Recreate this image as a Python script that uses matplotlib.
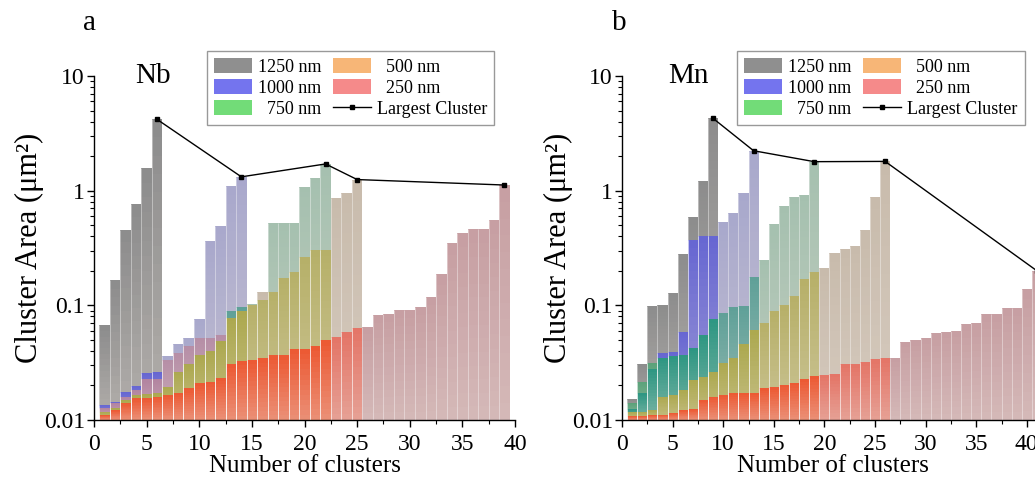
import numpy as np
import matplotlib
matplotlib.use("Agg")
import matplotlib.pyplot as plt
from matplotlib.patches import Patch
from matplotlib.lines import Line2D
from matplotlib.ticker import MultipleLocator, LogLocator, NullFormatter

plt.rcParams['font.family'] = ['Liberation Serif', 'DejaVu Serif']

# ---------------- data (cluster areas, um^2, sorted ascending) ----------------
series_names = ['1250 nm', '1000 nm', '750 nm', '500 nm', '250 nm']
series_nm = [1250, 1000, 750, 500, 250]

nb_1250 = [0.067, 0.166, 0.453, 0.76, 1.58, 4.18]
nb_1000 = [0.0135, 0.0144, 0.0174, 0.0198, 0.0256, 0.0262, 0.0365, 0.0457, 0.0515,
           0.076, 0.366, 0.494, 1.10, 1.32]
nb_750 = [0.0118, 0.0126, 0.0148, 0.0165, 0.0168, 0.0172, 0.0195, 0.0264, 0.031, 0.037,
          0.040, 0.0485, 0.089, 0.097, 0.103, 0.111, 0.525, 0.525, 0.525, 1.07, 1.28, 1.71]
nb_500 = [0.0128, 0.014, 0.016, 0.0183, 0.0226, 0.0226, 0.0334, 0.0384, 0.044, 0.0515,
          0.052, 0.055, 0.078, 0.089, 0.100, 0.131, 0.131, 0.172, 0.197, 0.264, 0.305,
          0.305, 0.857, 0.946, 1.25]
nb_250 = [0.011, 0.0122, 0.014, 0.0154, 0.0154, 0.016, 0.0165, 0.0171, 0.019, 0.0209,
          0.0216, 0.0232, 0.031, 0.033, 0.0334, 0.0345, 0.0369, 0.0369, 0.0414, 0.0414,
          0.0441, 0.0498, 0.0532, 0.0583, 0.0638, 0.0643, 0.0816, 0.0838, 0.091, 0.091,
          0.096, 0.119, 0.187, 0.351, 0.425, 0.46, 0.46, 0.555, 1.12]

mn_1250 = [0.0152, 0.0308, 0.0987, 0.100, 0.129, 0.280, 0.593, 1.22, 4.27]
mn_1000 = [0.0125, 0.0171, 0.0277, 0.0381, 0.039, 0.0589, 0.371, 0.399, 0.399, 0.536,
           0.641, 0.946, 2.23]
mn_750 = [0.0140, 0.0216, 0.0316, 0.0349, 0.036, 0.0369, 0.0422, 0.055, 0.0755, 0.085,
          0.096, 0.0987, 0.177, 0.248, 0.512, 0.735, 0.885, 0.915, 1.79]
mn_500 = [0.0118, 0.0118, 0.0122, 0.0160, 0.0165, 0.0183, 0.0225, 0.0239, 0.0264, 0.0317,
          0.0349, 0.0462, 0.0609, 0.0705, 0.0887, 0.101, 0.120, 0.169, 0.196, 0.210,
          0.284, 0.308, 0.329, 0.453, 0.875, 1.80]
mn_250 = [0.0108, 0.0108, 0.011, 0.0111, 0.0115, 0.0122, 0.0124, 0.0149, 0.016, 0.0165,
          0.0171, 0.0171, 0.0173, 0.0189, 0.0193, 0.0202, 0.0212, 0.0226, 0.0242, 0.0247,
          0.0251, 0.0308, 0.0308, 0.0322, 0.0338, 0.0345, 0.0349, 0.0482, 0.0498, 0.0515,
          0.057, 0.0588, 0.060, 0.0683, 0.0705, 0.084, 0.084, 0.094, 0.094, 0.138, 0.200]

x_ticks = [0, 5, 10, 15, 20, 25, 30, 35, 40]
y_ticks = [0.01, 0.1, 1, 10]
y_ticklabels = ['0.01', '0.1', '1', '10']

# ---------------- styling ----------------
YMIN, YMAX = 0.01, 10
SAT = {1250: (120, 120, 120), 1000: (80, 80, 235), 750: (45, 185, 100),
       500: (245, 160, 60), 250: (235, 60, 40)}
MUTED = {1250: (140, 140, 140), 1000: (168, 168, 204), 750: (165, 192, 175),
         500: (200, 187, 172), 250: (198, 158, 162)}
# colours of overlapping regions (two series only / three or more series)
PAIR2 = {frozenset({1250, 1000}): (102, 102, 210), frozenset({1000, 750}): (95, 160, 152),
         frozenset({750, 500}): (182, 176, 104), frozenset({500, 250}): (228, 116, 102),
         frozenset({1000, 500}): (182, 142, 166), frozenset({1250, 750}): (90, 162, 122),
         frozenset({1250, 500}): (172, 135, 145)}
PAIRN = {frozenset({1250, 1000}): (100, 100, 215), frozenset({1000, 750}): (45, 150, 130),
         frozenset({750, 500}): (172, 168, 78), frozenset({500, 250}): (236, 88, 50),
         frozenset({1000, 500}): (178, 132, 160), frozenset({1250, 750}): (60, 160, 125),
         frozenset({1250, 500}): (170, 130, 140)}
LEG = {1250: '#8f8f8f', 1000: '#7474ee', 750: '#72dc78', 500: '#f7b677', 250: '#f58a8a'}
LIGHT = np.array((232, 222, 214)) / 255.0
GRAD = 0.42
K = 14


def region_color(S, hs):
    s1 = min(S, key=lambda nm: (hs[nm], nm))
    if len(S) == 1:
        return np.array(MUTED[s1]) / 255.0
    others = [nm for nm in S if nm != s1]
    smaller = [nm for nm in others if nm < s1]
    partner = max(smaller) if smaller else min(nm for nm in others if nm > s1)
    key = frozenset({s1, partner})
    table = PAIR2 if len(S) == 2 else PAIRN
    if key in table:
        c = np.array(table[key], dtype=float)
    else:
        c = 0.5 * np.array(SAT[s1]) + 0.5 * np.array(SAT[partner])
    return c / 255.0


def draw_panel(ax, data, xmax, label, label_tx, ylab_x, leg_x):
    npos = max(len(v) for v in data.values())
    xs, bots, hts, cols = [], [], [], []
    for p in range(1, npos + 1):
        hs = {nm: v[p - 1] for nm, v in data.items() if len(v) >= p}
        prev = YMIN
        for h in sorted(set(hs.values())):
            S = [nm for nm in hs if hs[nm] >= h]
            ctop = region_color(S, hs)
            edges = np.geomspace(prev, h, K + 1)
            for lo, hi in zip(edges[:-1], edges[1:]):
                mid = np.sqrt(lo * hi)
                t = (np.log10(mid) - np.log10(YMIN)) / (np.log10(h) - np.log10(YMIN))
                lam = GRAD * (1 - t)
                xs.append(p)
                bots.append(lo)
                hts.append(hi - lo)
                cols.append(tuple(ctop * (1 - lam) + LIGHT * lam))
            prev = h
    ax.bar(xs, hts, bottom=bots, width=1.0, color=cols, linewidth=0,
           antialiased=False, zorder=1)
    # thin light separators at bar sides
    for nm, v in data.items():
        pos = np.arange(1, len(v) + 1)
        ax.vlines(pos - 0.5, YMIN, v, colors=(1, 1, 1, 0.45), linewidth=0.6, zorder=2)
    # largest cluster line
    lx = [int(np.argmax(v)) + 1 for v in data.values()]
    ly = [max(v) for v in data.values()]
    ax.plot(lx, ly, '-s', color='black', lw=1.0, ms=3.5, zorder=5, clip_on=False)

    ax.set_yscale('log')
    ax.set_ylim(YMIN, YMAX)
    ax.set_xlim(0, xmax)
    ax.set_xticks(x_ticks)
    ax.xaxis.set_minor_locator(MultipleLocator(2.5))
    ax.set_yticks(y_ticks)
    ax.set_yticklabels(y_ticklabels)
    ax.yaxis.set_minor_locator(LogLocator(base=10, subs=np.arange(2, 10)))
    ax.yaxis.set_minor_formatter(NullFormatter())
    for s in ['top', 'right']:
        ax.spines[s].set_visible(False)
    for s in ['left', 'bottom']:
        ax.spines[s].set_linewidth(1.0)
    ax.tick_params(which='major', direction='out', length=5, width=1, labelsize=17)
    ax.tick_params(which='minor', direction='out', length=2.8, width=0.8)
    ax.tick_params(axis='y', which='major', pad=1.5)
    ax.tick_params(axis='x', which='major', pad=5)
    ax.set_xlabel('Number of clusters', fontsize=18)
    ax.set_ylabel('Cluster Area (μm²)', fontsize=22)
    ax.xaxis.set_label_coords(0.5, -0.103)
    ax.yaxis.set_label_coords(ylab_x, 0.5)
    ax.text(label_tx, 0.979, label, transform=ax.transAxes,
            fontsize=21, ha='left', va='baseline')

    handles = [Patch(facecolor=LEG[nm], edgecolor='none') for nm in series_nm]
    handles.append(Line2D([], [], color='black', lw=1.0, marker='s', ms=3))
    labels = ['1250 nm', '1000 nm', '  750 nm', '  500 nm', '  250 nm', 'Largest Cluster']
    leg = ax.legend(handles, labels, ncol=2, loc='upper left',
                    bbox_to_anchor=(leg_x, 1.073), borderaxespad=0, fontsize=13,
                    frameon=True, fancybox=False, edgecolor='#808080',
                    handlelength=2.1, handleheight=0.85, handletextpad=0.35,
                    labelspacing=0.2, columnspacing=0.6, borderpad=0.4)
    leg.get_frame().set_linewidth(1.0)
    leg.set_zorder(10)


fig = plt.figure(figsize=(10.35, 4.8), dpi=100)
ax1 = fig.add_axes([94 / 1035, 60 / 480, 421 / 1035, 344 / 480])
ax2 = fig.add_axes([622 / 1035, 60 / 480, 421 / 1035, 344 / 480])

nb = {1250: nb_1250, 1000: nb_1000, 750: nb_750, 500: nb_500, 250: nb_250}
mn = {1250: mn_1250, 1000: mn_1000, 750: mn_750, 500: mn_500, 250: mn_250}

draw_panel(ax1, nb, 40, 'Nb', 0.097, -0.119, 0.268)
draw_panel(ax2, mn, 41.6, 'Mn', 0.109, -0.116, 0.273)

fig.text(83 / 1035, 1 - 30 / 480, 'a', fontsize=21, ha='left', va='baseline')
fig.text(612 / 1035, 1 - 30 / 480, 'b', fontsize=21, ha='left', va='baseline')

fig.savefig('out.png', dpi=100)
